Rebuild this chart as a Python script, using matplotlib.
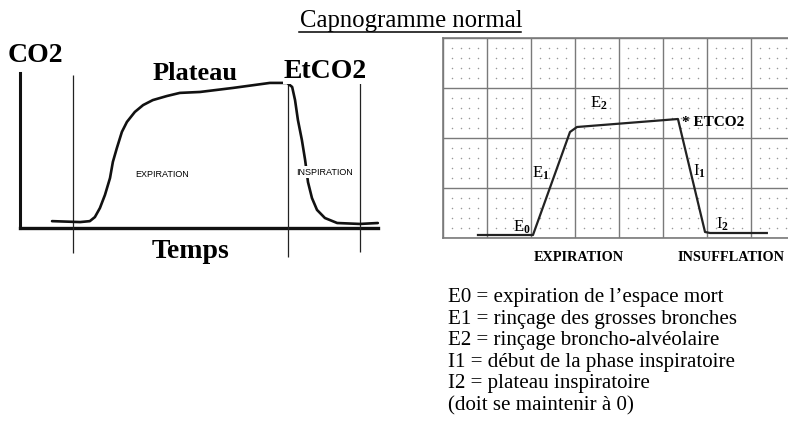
import numpy as np
import matplotlib.pyplot as plt

plt.rcParams['font.family'] = 'Liberation Serif'
plt.rcParams['mathtext.fontset'] = 'custom'
plt.rcParams['mathtext.rm'] = 'Liberation Serif:bold'
plt.rcParams['mathtext.bf'] = 'Liberation Serif:bold'
plt.rcParams['mathtext.it'] = 'Liberation Serif:bold'

W, H = 788, 421

# left capnogram: time (s) vs CO2 (mmHg)
temps = [0.89, 1.67, 1.94, 2.08, 2.22, 2.36, 2.5, 2.58, 2.69, 2.83, 2.97, 3.19,
         3.42, 3.69, 4.08, 4.44, 5.0, 5.92, 6.94, 7.42, 7.56, 7.64, 7.72, 7.83,
         7.92, 8.0, 8.11, 8.25, 8.47, 8.81, 9.44, 9.94]
co2 = [2.2, 1.9, 2.2, 3.5, 6.4, 10.6, 16.0, 21.2, 25.6, 30.8, 34.0, 37.2,
       39.4, 41.0, 42.3, 43.3, 43.6, 44.9, 46.5, 46.5, 45.2, 41.0, 34.6, 28.2,
       21.8, 14.7, 9.6, 5.8, 3.2, 1.6, 1.3, 1.6]
sep_t = [1.47, 7.44, 9.44]
sep_lo = [-8.0, -9.3, -7.7]
sep_hi = [49.0, 47.5, 46.5]

# right capnogram on paper grid (8 x 4 squares)
grid_t = [0.795, 2.045, 2.886, 3.045, 5.34, 5.955, 6.07, 7.36]
grid_co2 = [0.06, 0.06, 2.12, 2.22, 2.38, 0.12, 0.10, 0.10]
phase_labels = [r'E$_0$', r'E$_1$', r'E$_2$', r'I$_1$', r'I$_2$']
phase_x = [1.59, 2.02, 3.34, 5.68, 6.2]
phase_y = [0.12, 1.2, 2.6, 1.24, 0.18]

legend_lines = [
    "E0 = expiration de l\u2019espace mort",
    "E1 = rinçage des grosses bronches",
    "E2 = rinçage broncho-alvéolaire",
    "I1 = début de la phase inspiratoire",
    "I2 = plateau inspiratoire",
    "(doit se maintenir à 0)",
]


def px_box(x0, y0, x1, y1):
    return [x0 / W, 1 - y1 / H, (x1 - x0) / W, (y1 - y0) / H]


fig = plt.figure(figsize=(W / 100, H / 100), dpi=100)

# ---- left panel
ax = fig.add_axes(px_box(20, 72, 380, 228))
ax.set_xlim(0, 10)
ax.set_ylim(0, 50)
ax.axis('off')
ax.plot([0, 0], [0, 49.7], color='#111111', lw=2.2, clip_on=False)
ax.plot([0, 9.95], [0, 0], color='#111111', lw=2.4, clip_on=False)
ax.vlines(sep_t, sep_lo, sep_hi, color='#222222', lw=0.9, clip_on=False)
ax.plot(temps, co2, color='#111111', lw=1.9, clip_on=False, zorder=3,
        solid_joinstyle='round', solid_capstyle='round')

ax.text(-0.33, 53.2, 'CO2', fontsize=20, fontweight='bold', va='baseline', ha='left')
ax.text(3.69, 47.4, 'Plateau', fontsize=19, fontweight='bold', va='baseline', ha='left')
ax.text(7.31, 48.1, 'EtCO2', fontsize=20, fontweight='bold', va='baseline', ha='left',
        bbox=dict(facecolor='white', edgecolor='none', pad=0), zorder=4)
ax.text(3.67, -9.6, 'Temps', fontsize=20, fontweight='bold', va='baseline', ha='left')
ax.text(3.94, 17.3, 'EXPIRATION', fontsize=6.5, family='Liberation Sans', ha='center', va='center')
ax.text(8.47, 17.9, 'INSPIRATION', fontsize=6.5, family='Liberation Sans', ha='center', va='center',
        bbox=dict(facecolor='white', edgecolor='none', pad=1), zorder=5)

# ---- title
fig.text(300 / W, 1 - 27.5 / H, 'Capnogramme normal', fontsize=17.8, va='baseline', ha='left')
fig.add_artist(plt.Line2D([299 / W, 521 / W], [1 - 31.5 / H, 1 - 31.5 / H], color='black', lw=1.1))

# ---- right panel
ax2 = fig.add_axes(px_box(443, 38, 795, 238))
ax2.set_xlim(0, 8)
ax2.set_ylim(0, 4)
ax2.set_xticks(range(9))
ax2.set_yticks(range(5))
ax2.tick_params(length=0, labelbottom=False, labelleft=False)
ax2.grid(True, color='#7a7a7a', lw=1.0)
for s in ax2.spines.values():
    s.set_color('#7a7a7a')
    s.set_linewidth(1.2)
ax2.set_axisbelow(True)

offs = np.array([0.2, 0.4, 0.6, 0.8])
gx, gy = np.meshgrid(np.concatenate([c + offs for c in range(8)]),
                     np.concatenate([r + offs for r in range(4)]))
ax2.scatter(gx.ravel(), gy.ravel(), s=1.2, color='#9a9a9a', linewidths=0, zorder=1)

ax2.plot(grid_t, grid_co2, color='#222222', lw=1.6, zorder=3, clip_on=False,
         solid_joinstyle='round')
for lab, x, y in zip(phase_labels, phase_x, phase_y):
    ax2.text(x, y, lab, fontsize=12, va='baseline', ha='left', zorder=4)
ax2.text(5.43, 2.24, '* ETCO2', fontsize=11, fontweight='bold', va='baseline', ha='left', zorder=4)
ax2.text(3.09, -0.39, 'EXPIRATION', fontsize=10.3, fontweight='bold', va='center', ha='center',
         clip_on=False)
ax2.text(5.32, -0.39, 'INSUFFLATION', fontsize=10.3, fontweight='bold', va='center', ha='left',
         clip_on=False)

# ---- legend text
for i, line in enumerate(legend_lines):
    fig.text(448 / W, 1 - (302 + 21.6 * i) / H, line, fontsize=15.1, va='baseline', ha='left')

fig.savefig('out.png', dpi=100, facecolor='white')
